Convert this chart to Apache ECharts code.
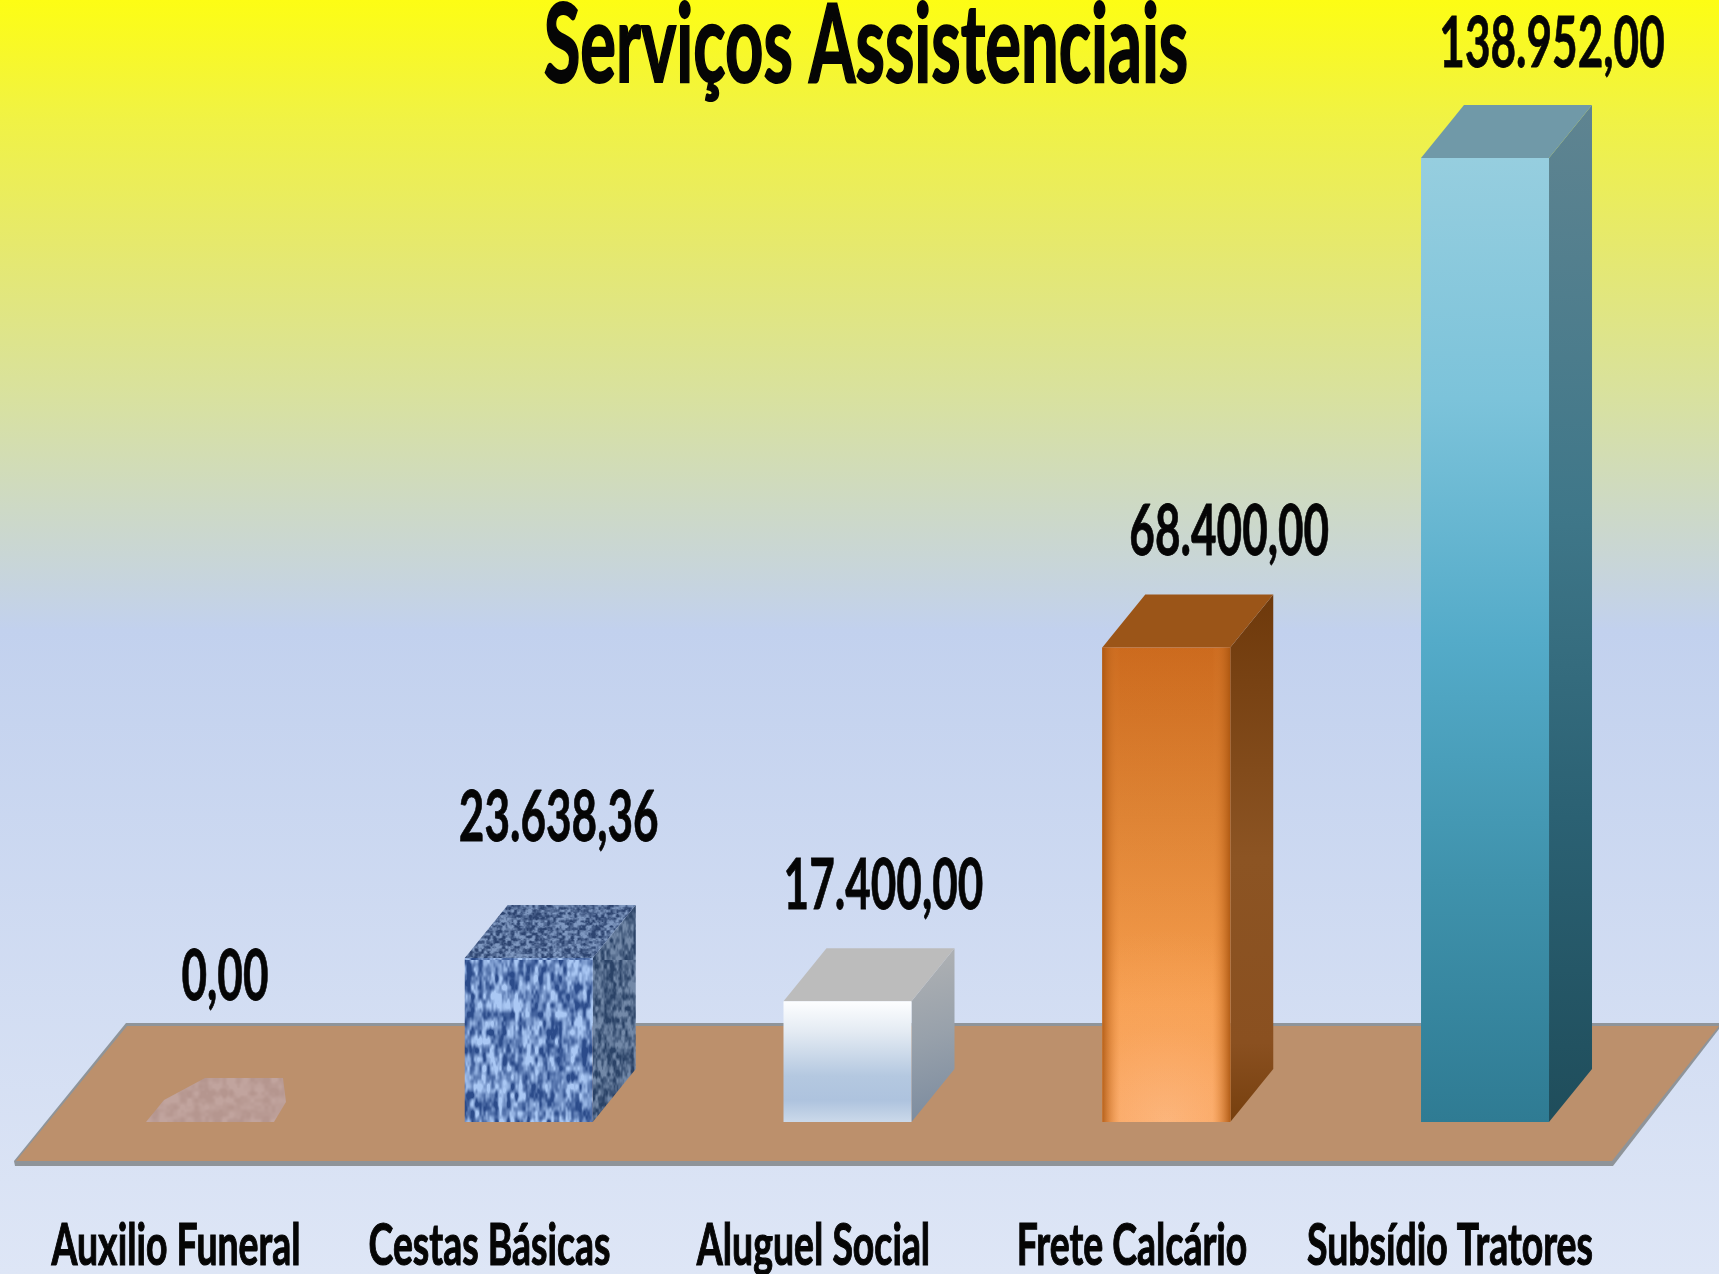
<!DOCTYPE html>
<html><head><meta charset="utf-8">
<style>html,body{margin:0;padding:0;background:#fff;overflow:hidden}#c{width:1719px;height:1274px;filter:blur(0.7px)}</style>
<script src="https://cdn.jsdelivr.net/npm/echarts@6/dist/echarts.min.js"></script>
</head><body><div id="c"></div>
<script>
const titleText = 'Serviços Assistenciais';
const categories = ['Auxilio Funeral','Cestas Básicas','Aluguel Social','Frete Calcário','Subsídio Tratores'];
const values = [0, 23638.36, 17400, 68400, 138952];
const valueLabels = ['0,00','23.638,36','17.400,00','68.400,00','138.952,00'];

// label layout, kept apart from the data
const labelDx = [15, 30, 36, 63, 67];
const labelDy = [-145, -140, -115, -115, -114];
const catX = [176, 489.5, 813.5, 1132, 1450];

const LG = (x0,y0,x1,y1,stops)=>new echarts.graphic.LinearGradient(x0,y0,x1,y1,stops.map(s=>({offset:s[0],color:s[1]})));
const RG = (x,y,r,stops)=>new echarts.graphic.RadialGradient(x,y,r,stops.map(s=>({offset:s[0],color:s[1]})));

// deterministic woven texture for the "Cestas Básicas" box
function weave(w,h,dark,light,fx,fy){
  const c=document.createElement('canvas');c.width=w;c.height=h;
  const g=c.getContext('2d'),im=g.createImageData(w,h);
  const d=echarts.color.parse(dark),l=echarts.color.parse(light);
  const h2=(x,y)=>{const s=Math.sin(x*127.1+y*311.7)*43758.5453;return s-Math.floor(s);};
  const sm=t=>t*t*(3-2*t);
  const n=(x,y)=>{const xi=Math.floor(x),yi=Math.floor(y),a=sm(x-xi),b=sm(y-yi);
    const p=m=>((m%60)+60)%60;
    const v00=h2(p(xi),p(yi)),v10=h2(p(xi+1),p(yi)),v01=h2(p(xi),p(yi+1)),v11=h2(p(xi+1),p(yi+1));
    return (v00*(1-a)+v10*a)*(1-b)+(v01*(1-a)+v11*a)*b;};
  for(let y=0;y<h;y++)for(let x=0;x<w;x++){
    let v=0.7*n(x/fx,y/fy)+0.3*n(x/(fx/2)+7,y/(fy/2)+3);
    v=Math.min(1,Math.max(0,(v-0.24)/0.52));
    const i=(y*w+x)*4;
    for(let k=0;k<3;k++)im.data[i+k]=d[k]+(l[k]-d[k])*v;
    im.data[i+3]=255;
  }
  g.putImageData(im,0,0);return c;
}
const texFront={image:weave(320,320,'#2b4b8a','#aac8f4',4,9),repeat:'repeat'};
const texTop={image:weave(320,320,'#2d4470','#7f98c0',3,2.6),repeat:'repeat'};
const texSide={image:weave(320,320,'#2a4266','#7389a8',3,6),repeat:'repeat'};
const texFlat={image:weave(320,320,'#b5968f','#c1a49e',7,7),repeat:'repeat'};

const HALF=64, DX=43, DY=53;
const skins=[
 null,
 {front:texFront,top:texTop,side:texSide},
 {front:LG(0,0,0,1,[[0,'#fdfeff'],[.25,'#e4ebf3'],[.62,'#b4c8e0'],[.82,'#aec3de'],[1,'#cbd9ea']]),
  top:'#bcbcbc',
  side:LG(0,0,1,1,[[0,'#b0b2b4'],[.5,'#98a1ab'],[1,'#7a8a9e']])},
 {front:LG(0,0,0,1,[[0,'#c8661a'],[.35,'#dc8233'],[.75,'#f8a050'],[1,'#fca45a']]),
  glow:RG(.5,1,1.5,[[0,'rgba(255,196,150,.7)'],[.5,'rgba(255,190,140,.22)'],[1,'rgba(255,190,140,0)']]),
  overlay:LG(0,0,1,0,[[0,'rgba(170,85,15,.85)'],[.14,'rgba(235,140,60,.12)'],[.86,'rgba(235,140,60,.12)'],[1,'rgba(170,85,15,.9)']]),
  top:'#9b5518',
  side:LG(0,0,0,1,[[0,'#6e390b'],[.5,'#8c5423'],[.85,'#8a5020'],[1,'#763f0e']])},
 {front:LG(0,0,0,1,[[0,'#96cedf'],[.25,'#7cc3da'],[.5,'#54abc9'],[.75,'#3f92ac'],[1,'#2f7b93']]),
  top:'#7099a8',
  side:LG(0,0,0,1,[[0,'#5f8491'],[.4,'#3f7789'],[.7,'#2b6173'],[1,'#1f4d5b']])}
];

function scaled(text,x,y,sx,sy,font,sw){
  return {type:'text',x:x,y:y,scaleX:sx,scaleY:sy,z2:30,silent:true,
    style:{text:text,font:font,fill:'#050505',stroke:'#050505',lineWidth:sw,align:'center',verticalAlign:'middle'}};
}
function renderBar(params,api){
  const i=api.value(0), v=api.value(1);
  const base=api.coord([i,0]), top=api.coord([i,v]);
  const cx=base[0], y0=base[1], y1=top[1], L=cx-HALF, R=cx+HALF, ch=[];
  const poly=(pts,fill)=>({type:'polygon',shape:{points:pts},style:{fill:fill}});
  const face=fill=>({type:'rect',shape:{x:L,y:y1,width:HALF*2,height:y0-y1},style:{fill:fill}});
  if(v===0){
    ch.push(poly([[L,y0],[R,y0],[R+12,y0-20],[R+9,y0-44],[L+59,y0-44],[L+18,y0-22]],texFlat));
  }else{
    const s=skins[i];
    ch.push(poly([[R,y1],[R+DX,y1-DY],[R+DX,y0-DY],[R,y0]],s.side));
    ch.push(poly([[L,y1],[R,y1],[R+DX,y1-DY],[L+DX,y1-DY]],s.top));
    ch.push(face(s.front));
    if(s.glow)ch.push(face(s.glow));
    if(s.overlay)ch.push(face(s.overlay));
  }
  ch.push(scaled(valueLabels[i],cx+labelDx[i],y1+labelDy[i],0.63,1,'bold 70px Lato',0.8));
  ch.push(scaled(categories[i],catX[i],1246,0.645,1,'bold 58px Lato',1.2));
  return {type:'group',children:ch};
}

const chart=echarts.init(document.getElementById('c'),null,{renderer:'canvas',width:1719,height:1274});
chart.setOption({
  animation:false,
  backgroundColor:LG(0,0,0,1,[[0,'#fdfd14'],[.094,'#f0f245'],[.19,'#e6e96c'],[.314,'#d8e1a0'],[.40,'#cdd9c6'],[.495,'#c2d1ee'],[1,'#dee6f6']]),
  grid:{left:50.6,right:74.6,top:12,bottom:152,containLabel:false},
  xAxis:{type:'category',data:categories,show:false},
  yAxis:{type:'value',min:0,max:160000,interval:20000,show:false},
  graphic:{elements:[
    {type:'polygon',z:0,silent:true,shape:{points:[[15,1166],[1613,1166],[1719,1029],[1719,1023],[126,1023],[14,1161]]},style:{fill:'#8f9499'}},
    {type:'polygon',z:1,silent:true,shape:{points:[[16,1161],[1612,1161],[1719,1026],[127,1026]]},style:{fill:'#bc906c'}},
    {type:'text',z:5,silent:true,x:866,y:47,scaleX:0.608,scaleY:1,
     style:{text:titleText,font:'bold 110px Lato',fill:'#050505',stroke:'#050505',lineWidth:2,align:'center',verticalAlign:'middle'}}
  ]},
  series:[{type:'custom',coordinateSystem:'cartesian2d',clip:false,renderItem:renderBar,
    encode:{x:0,y:1},data:values.map((v,i)=>[i,v])}]
});
</script></body></html>
